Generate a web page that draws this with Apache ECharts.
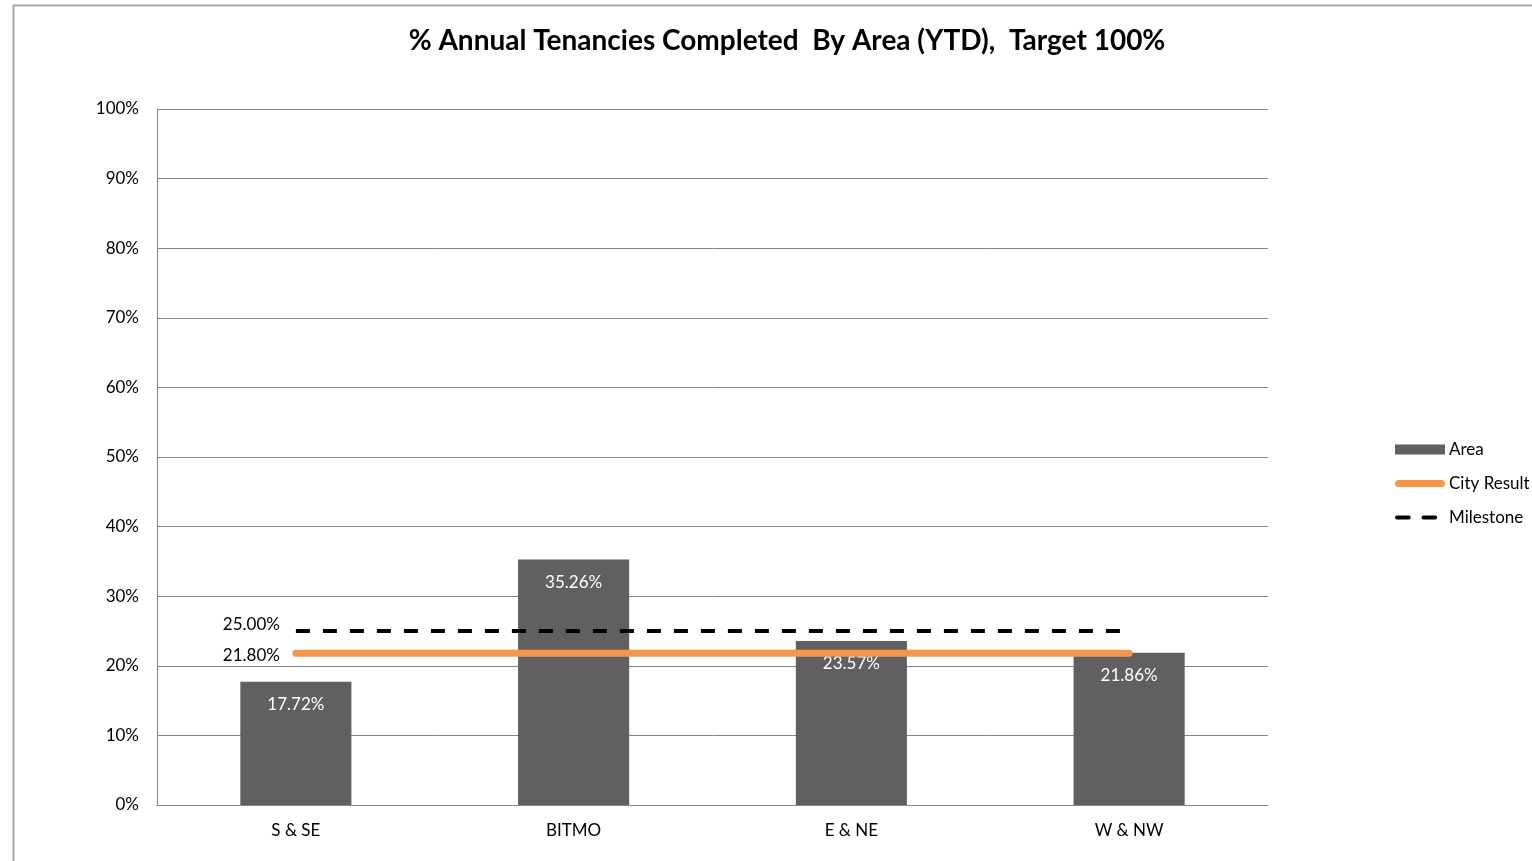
<!DOCTYPE html>
<html>
<head>
<meta charset="utf-8">
<script src="https://cdn.jsdelivr.net/npm/echarts@6/dist/echarts.min.js"></script>
<style>
  html, body { margin: 0; padding: 0; background: #fff; }
  #chart { width: 1532px; height: 861px; }
</style>
</head>
<body>
<div id="chart"></div>
<script>
const categories = ['S & SE', 'BITMO', 'E & NE', 'W & NW'];
const areaValues = [17.72, 35.26, 23.57, 21.86];
const cityResult = [21.8, 21.8, 21.8, 21.8];
const milestone = [25, 25, 25, 25];
const yTicks = { min: 0, max: 100, interval: 10 };

const font = 'Lato, "Open Sans", sans-serif';
const pct = (p) => p.value.toFixed(2) + '%';

// only the first point of each reference line carries a label
const firstLabelled = (values) => values.map((v, i) => i === 0
  ? { value: v, label: { show: true } }
  : v);

// legend icons, drawn in a 50x10 box (the bare M points pin the box size)
const cityIcon = 'path://M0,0M50,10M3.5,1.5H46.5A3.5,3.5 0 0 1 46.5,8.5H3.5A3.5,3.5 0 0 1 3.5,1.5Z';
const milestoneIcon = 'path://M0,0M50,10M1,3H13A2,2 0 0 1 13,7H1A2,2 0 0 1 1,3Z M28,3H40A2,2 0 0 1 40,7H28A2,2 0 0 1 28,3Z';

const chart = echarts.init(document.getElementById('chart'));

chart.setOption({
  backgroundColor: '#fff',
  textStyle: { fontFamily: font },
  title: {
    text: '% Annual Tenancies Completed  By Area (YTD),  Target 100%',
    left: 782,
    textAlign: 'center',
    top: 22,
    textStyle: { fontFamily: font, fontSize: 28, fontWeight: 'bold', color: '#000' }
  },
  graphic: [{
    type: 'rect',
    shape: { x: 13.5, y: 5.5, width: 1600, height: 900 },
    style: { fill: 'none', stroke: '#a6a6a6', lineWidth: 2 },
    silent: true
  }],
  legend: {
    orient: 'vertical',
    left: 1390,
    top: 436,
    itemGap: 17,
    itemWidth: 50,
    itemHeight: 10,
    textStyle: { fontFamily: font, fontSize: 17, color: '#000', padding: [0, 0, 0, -1] },
    data: [
      { name: 'Area', icon: 'rect' },
      { name: 'City Result', icon: cityIcon },
      { name: 'Milestone', icon: milestoneIcon }
    ]
  },
  grid: { left: 157, right: 264, top: 109, bottom: 56 },
  xAxis: {
    type: 'category',
    data: categories,
    axisLine: { lineStyle: { color: '#868686', width: 1 } },
    axisTick: { show: false },
    axisLabel: { color: '#000', fontSize: 17, margin: 17, fontFamily: font }
  },
  yAxis: {
    type: 'value',
    min: yTicks.min,
    max: yTicks.max,
    interval: yTicks.interval,
    axisLine: { show: true, lineStyle: { color: '#868686', width: 1 } },
    axisTick: { show: false },
    splitLine: { lineStyle: { color: '#868686', width: 1 } },
    axisLabel: { color: '#000', fontSize: 17, margin: 18, formatter: '{value}%', fontFamily: font }
  },
  series: [
    {
      name: 'Area',
      type: 'bar',
      data: areaValues,
      barWidth: '40%',
      itemStyle: { color: '#606060' },
      label: {
        show: true,
        position: 'insideTop',
        distance: 14,
        color: '#fff',
        fontSize: 17,
        fontFamily: font,
        formatter: pct
      },
      z: 2
    },
    {
      name: 'Milestone',
      type: 'line',
      data: firstLabelled(milestone),
      symbol: 'circle',
      symbolSize: 0,
      showSymbol: true,
      lineStyle: { color: '#000', width: 4, type: [14, 13] },
      itemStyle: { color: '#000' },
      label: {
        show: false,
        position: 'left',
        distance: 16,
        offset: [0, -6],
        color: '#000',
        fontSize: 17,
        fontFamily: font,
        formatter: pct
      },
      z: 3
    },
    {
      name: 'City Result',
      type: 'line',
      data: firstLabelled(cityResult),
      symbol: 'circle',
      symbolSize: 0,
      showSymbol: true,
      lineStyle: { color: '#f79646', width: 7, cap: 'round' },
      itemStyle: { color: '#f79646' },
      label: {
        show: false,
        position: 'left',
        distance: 16,
        offset: [0, 2],
        color: '#000',
        fontSize: 17,
        fontFamily: font,
        formatter: pct
      },
      z: 4
    }
  ]
});
</script>
</body>
</html>
